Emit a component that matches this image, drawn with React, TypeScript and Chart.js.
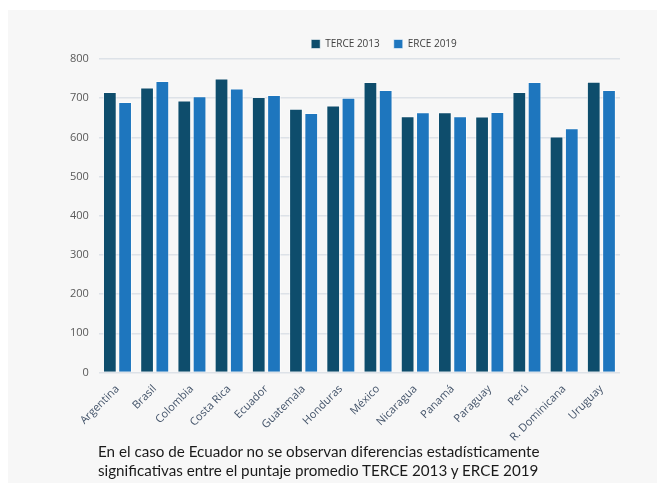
import React, { useEffect, useRef } from "react";
import { Chart, registerables } from "chart.js";

Chart.register(...registerables);

const categories = [
  "Argentina", "Brasil", "Colombia", "Costa Rica", "Ecuador", "Guatemala", "Honduras",
  "México", "Nicaragua", "Panamá", "Paraguay", "Perú", "R. Dominicana", "Uruguay",
];
const terce2013 = [716, 727, 694, 750, 703, 673, 681, 741, 654, 664, 653, 716, 602, 742];
const erce2019 = [690, 744, 705, 725, 708, 662, 701, 721, 664, 654, 665, 741, 623, 721];
const seriesNames = ["TERCE 2013", "ERCE 2019"];
const yTicks = [0, 100, 200, 300, 400, 500, 600, 700, 800];
const caption = [
  "En el caso de Ecuador no se observan diferencias estadísticamente",
  "significativas entre el puntaje promedio TERCE 2013 y ERCE 2019",
];

const FONT = "'Open Sans', sans-serif";

const legendShift = {
  id: "legendShift",
  afterLayout(chart: any) {
    if (chart.legend) {
      chart.legend.left += 44;
      chart.legend.right += 44;
    }
  },
};

export default function App() {
  const ref = useRef<HTMLCanvasElement>(null);
  useEffect(() => {
    if (!ref.current) return;
    const chart = new Chart(ref.current, {
      type: "bar",
      data: {
        labels: categories,
        datasets: [
          {
            label: seriesNames[0],
            data: terce2013,
            backgroundColor: "#0e4d6c",
            borderColor: "rgba(255,255,255,0.55)",
            borderWidth: 1,
            categoryPercentage: 0.82,
            barPercentage: 0.9,
          },
          {
            label: seriesNames[1],
            data: erce2019,
            backgroundColor: "#1e76be",
            borderColor: "rgba(255,255,255,0.55)",
            borderWidth: 1,
            categoryPercentage: 0.82,
            barPercentage: 0.9,
          },
        ],
      },
      options: {
        responsive: false,
        animation: false,
        layout: { padding: { left: 52, right: 37, top: 15, bottom: 0 } },
        plugins: {
          legend: {
            position: "top",
            labels: {
              boxWidth: 9,
              boxHeight: 9,
              padding: 14,
              color: "#404040",
              font: { family: FONT, size: 10 },
            },
          },
          tooltip: { enabled: false },
        },
        scales: {
          x: {
            grid: { display: false },
            border: { display: false },
            ticks: {
              color: "#44546a",
              font: { family: FONT, size: 11 },
              maxRotation: 45,
              minRotation: 45,
              padding: 2,
            },
          },
          y: {
            min: 0,
            max: 800,
            afterBuildTicks: (s: any) => {
              s.ticks = yTicks.map((v) => ({ value: v }));
            },
            grid: { color: "#dde2e8", lineWidth: 1.5, drawTicks: false },
            border: { display: false },
            ticks: {
              color: "#595959",
              font: { family: FONT, size: 11 },
              padding: 10,
            },
          },
        },
      },
      plugins: [legendShift],
    });
    return () => chart.destroy();
  }, []);
  return (
    <div
      style={{
        position: "absolute",
        left: 8,
        top: 10,
        width: 649,
        height: 473,
        background: "#f7f7f7",
      }}
    >
      <canvas ref={ref} width={649} height={436} style={{ display: "block" }} />
      <div
        style={{
          position: "absolute",
          left: 90,
          top: 432,
          fontFamily: "Lato, sans-serif",
          fontSize: 15.2,
          lineHeight: "19px",
          color: "#1a1a1a",
        }}
      >
        {caption.map((c, i) => (
          <div key={i}>{c}</div>
        ))}
      </div>
    </div>
  );
}
